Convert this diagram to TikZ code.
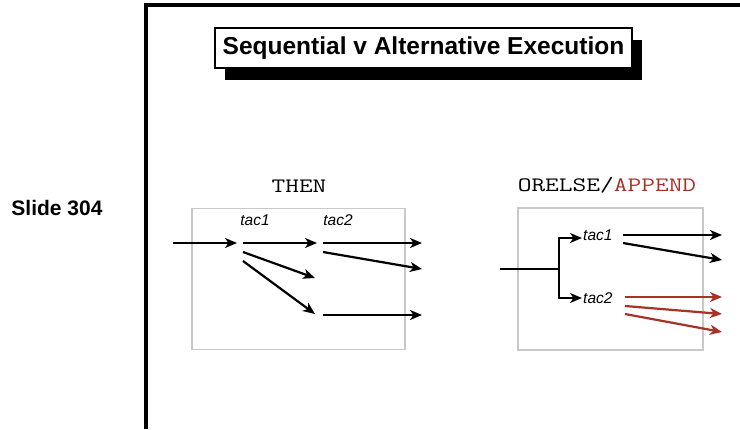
\documentclass[tikz,border=0pt]{standalone}
\usepackage{fontspec}
\usetikzlibrary{arrows.meta,shadows}
\newfontfamily\sansfont{Liberation Sans}
\definecolor{appendred}{RGB}{168,50,40}
\definecolor{boxgray}{RGB}{200,200,200}
\begin{document}
\begin{tikzpicture}[x=1pt,y=-1pt,
  flow/.style={line width=2.2pt,-{Stealth[length=12pt,width=10pt,inset=3.5pt]}},
  plain/.style={line width=2.2pt},
  panel/.style={draw=boxgray,line width=1.5pt,rectangle,inner sep=0pt},
  tacname/.style={font=\sansfont\itshape\fontsize{15.5}{15.5}\selectfont,inner sep=0pt},
  heading/.style={font=\ttfamily\fontsize{20.5}{20.5}\selectfont,inner sep=0pt}]
\useasboundingbox (0,0) rectangle (740,429);
\fill[white] (0,0) rectangle (740,429);

% slide frame
\draw[line width=4pt] (146,429) -- (146,5.3) -- (740,5.3);

% title with solid drop shadow
\node[draw,line width=2pt,fill=white,rectangle,minimum width=417pt,minimum height=40pt,inner sep=0pt,
  drop shadow={shadow xshift=10pt,shadow yshift=-12pt,fill=black,opacity=1}]
  (title) at (423.5,48) {\sansfont\bfseries\fontsize{24.5}{24.5}\selectfont Sequential v Alternative Execution};

\node[font=\sansfont\bfseries\fontsize{21}{21}\selectfont,inner sep=0pt] (slideno) at (57,208.5) {Slide 304};

% ---- THEN ----
\node[heading] (then) at (299,186) {\scalebox{1.3}[1]{THEN}};
\node[panel,minimum width=213pt,minimum height=141pt] (thenbox) at (298.5,279) {};
\node[tacname] (ta) at (255,220) {tac1};
\node[tacname] (tb) at (338,220) {tac2};

\coordinate (a1s) at (173,243); \coordinate (a1e) at (237,243);
\coordinate (a2s) at (243,243); \coordinate (a2e) at (317,243);
\coordinate (a3s) at (323,243); \coordinate (a3e) at (422,243);
\coordinate (a4s) at (323,252); \coordinate (a4e) at (422,269);
\coordinate (a5s) at (243,252); \coordinate (a5e) at (315,278);
\coordinate (a6s) at (243,261); \coordinate (a6e) at (315,314);
\coordinate (a7s) at (323,315); \coordinate (a7e) at (422,315);
\foreach \i in {1,...,7} \draw[flow] (a\i s) -- (a\i e);

% ---- ORELSE / APPEND ----
\node[heading] (orelse) at (607,185) {\scalebox{1.3}[1]{ORELSE/\textcolor{appendred}{APPEND}}};
\node[panel,minimum width=185pt,minimum height=142pt] (orbox) at (610.5,279) {};
\node[tacname,anchor=west] (oa) at (583,235) {tac1};
\node[tacname,anchor=west] (ob) at (583,298) {tac2};

\coordinate (in) at (500,269);
\coordinate (fork) at (559,269);
\coordinate (fa) at (582,238);
\coordinate (fb) at (582,298);
\draw[plain] (in) -- (fork);
\draw[flow] (fork) |- (fa);
\draw[flow] (fork) |- (fb);

\coordinate (b1s) at (623,235); \coordinate (b1e) at (722,235);
\coordinate (b2s) at (623,243); \coordinate (b2e) at (722,260);
\draw[flow] (b1s) -- (b1e);
\draw[flow] (b2s) -- (b2e);

\coordinate (c1s) at (625,297); \coordinate (c1e) at (722,297);
\coordinate (c2s) at (625,306); \coordinate (c2e) at (722,314);
\coordinate (c3s) at (625,314); \coordinate (c3e) at (722,332);
\foreach \i in {1,2,3} \draw[flow,draw=appendred,fill=appendred] (c\i s) -- (c\i e);
\end{tikzpicture}
\end{document}
